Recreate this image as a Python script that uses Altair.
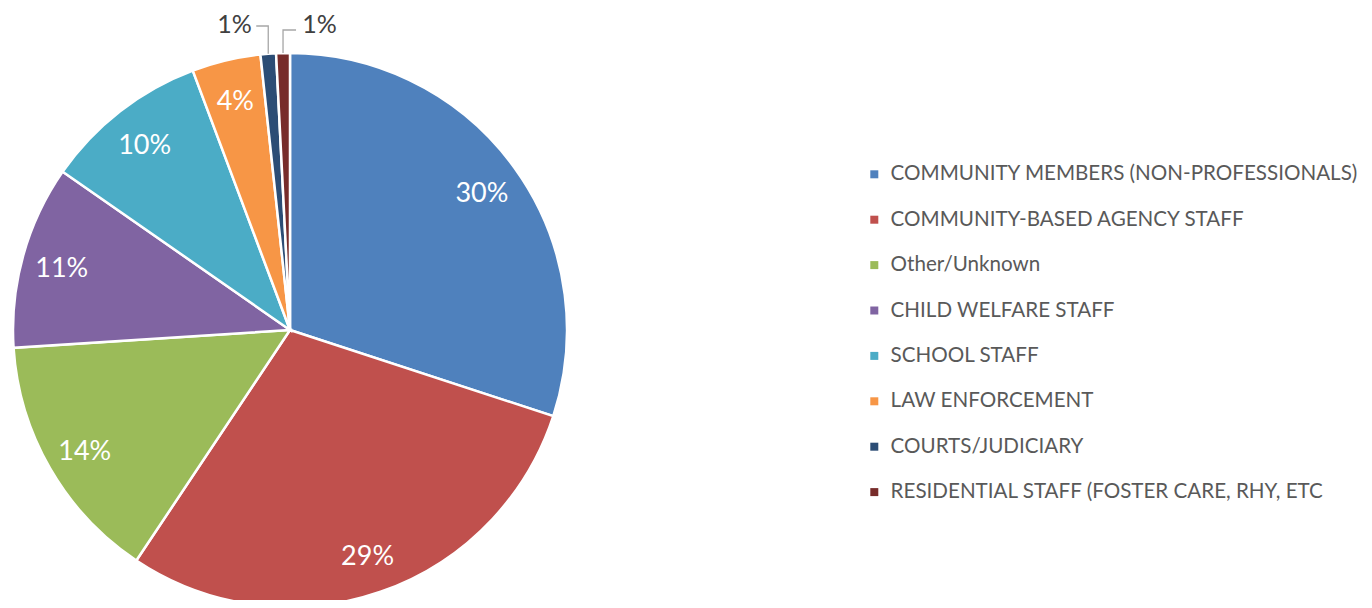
import math
import altair as alt
import pandas as pd

categories = [
    "COMMUNITY MEMBERS (NON-PROFESSIONALS)",
    "COMMUNITY-BASED AGENCY STAFF",
    "Other/Unknown",
    "CHILD WELFARE STAFF",
    "SCHOOL STAFF",
    "LAW ENFORCEMENT",
    "COURTS/JUDICIARY",
    "RESIDENTIAL STAFF (FOSTER CARE, RHY, ETC",
]
values = [30.0, 29.3, 14.6, 10.7, 9.6, 4.0, 0.9, 0.8]
labels = ["30%", "29%", "14%", "11%", "10%", "4%", "1%", "1%"]
colors = ["#4F81BD", "#C0504D", "#9BBB59", "#8064A2", "#4BACC6", "#F79646", "#2C4D75", "#772C2A"]

FONT = "Lato"
W, H = 1356, 592
CX, CY, R = 282, 322, 277

df = pd.DataFrame({"cat": categories, "value": values, "label": labels, "idx": list(range(len(categories)))})

base = alt.Chart(df).encode(
    theta=alt.Theta("value:Q", stack=True, scale=alt.Scale(range=[0, 2 * math.pi])),
    order=alt.Order("idx:Q"),
)

pie = base.mark_arc(x=CX, y=CY, outerRadius=R, stroke="white", strokeWidth=2.5).encode(
    color=alt.Color(
        "cat:N",
        scale=alt.Scale(domain=categories, range=colors),
        sort=categories,
        legend=alt.Legend(
            title=None,
            orient="none",
            legendX=856,
            legendY=156,
            symbolType="square",
            symbolSize=64,
            symbolStrokeWidth=0,
            labelFont=FONT,
            labelFontSize=20.6,
            labelColor="#595959",
            labelOffset=6,
            rowPadding=24.4,
            labelLimit=600,
        ),
    )
)

inner = base.transform_calculate(
    txt="datum.value >= 2 ? datum.label : ''"
).mark_text(
    x=CX, y=CY, radius=237, dy=3, font=FONT, fontSize=27, color="white", align="center", baseline="middle"
).encode(text="txt:N")

def outer_label(name, dx, dy):
    return base.transform_calculate(
        txt=f"datum.cat == '{name}' ? datum.label : ''"
    ).mark_text(
        x=CX, y=CY, radius=300, dx=dx, dy=dy, font=FONT, fontSize=25, color="#404040",
        align="center", baseline="alphabetic"
    ).encode(text="txt:N")

lab1 = outer_label(categories[6], -32, 2)
lab2 = outer_label(categories[7], 37, 3)

# leader lines computed from slice mid angles
total = sum(values)
cum = 0.0
mids = []
for v in values:
    mids.append((cum + v / 2) / total * 2 * math.pi)
    cum += v
rows = []
for k, (i, top, hlen) in enumerate([(6, 18, -12), (7, 22, 13)]):
    a = mids[i]
    x0 = CX + R * math.sin(a)
    y0 = CY - R * math.cos(a)
    rows += [
        {"g": k, "o": 0, "px": x0, "py": y0},
        {"g": k, "o": 1, "px": x0, "py": top},
        {"g": k, "o": 2, "px": x0 + hlen, "py": top},
    ]
lead = alt.Chart(pd.DataFrame(rows)).mark_line(color="#A6A6A6", strokeWidth=1.3).encode(
    x=alt.X("px:Q", scale=alt.Scale(domain=[0, W], nice=False, zero=False), axis=None),
    y=alt.Y("py:Q", scale=alt.Scale(domain=[H, 0], nice=False, zero=False), axis=None),
    detail="g:N",
    order="o:Q",
)

chart = alt.layer(pie, inner, lab1, lab2, lead).resolve_scale(x="independent", y="independent").properties(
    width=W, height=H, padding=0, autosize=alt.AutoSizeParams(type="none"), background="white"
).configure_view(stroke=None)

chart.save("out.html", embed_options={"renderer": "svg", "actions": False})
